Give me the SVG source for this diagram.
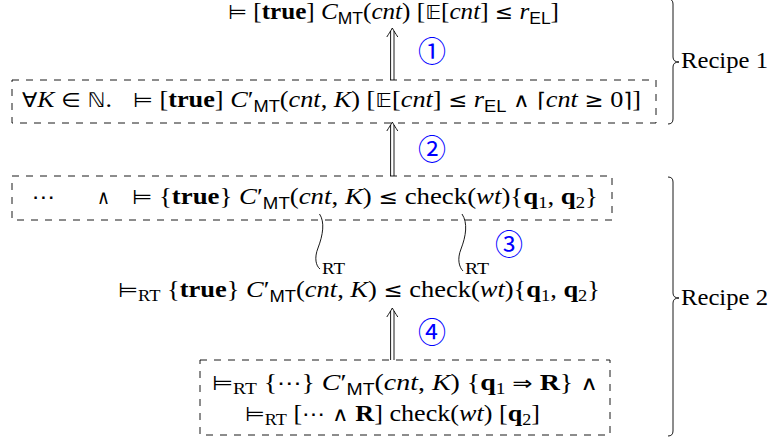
<svg xmlns="http://www.w3.org/2000/svg" width="774" height="440" viewBox="0 0 774 440">
<style>
.t { font-family: "Liberation Serif", "DejaVu Serif", serif; font-size: 23px; fill: #000; }
.i { font-style: italic; }
.b { font-weight: bold; }
.s { font-family: "DejaVu Sans", sans-serif; font-size: 20px; }
.sf { font-family: "Liberation Sans", sans-serif; font-size: 16px; }
.sub { font-size: 16px; }
.num { font-family: "Noto Sans CJK JP", "DejaVu Sans", sans-serif; font-size: 28px; fill: #0000ff; }
.box { fill: none; stroke: #000; stroke-width: 0.9; stroke-dasharray: 7 7; }
.ln { fill: none; stroke: #000; stroke-width: 0.9; }
</style>
<rect width="774" height="440" fill="#fff"/>

<g id="goal">
<text class="t" x="228" y="19" textLength="331" lengthAdjust="spacingAndGlyphs"><tspan class="s">⊨</tspan> [<tspan class="b">true</tspan>] <tspan class="i">C</tspan><tspan class="sf" dy="5">MT</tspan><tspan dy="-5">(</tspan><tspan class="i">cnt</tspan>) [<tspan class="s">𝔼</tspan>[<tspan class="i">cnt</tspan>] <tspan class="s">≤</tspan> <tspan class="i">r</tspan><tspan class="sf" dy="5">EL</tspan><tspan dy="-5">]</tspan></text>
</g>

<g id="box1">
<rect class="box" x="12" y="80" width="644" height="43"/>
<text class="t" x="22" y="107" textLength="90" lengthAdjust="spacingAndGlyphs"><tspan class="s">∀</tspan><tspan class="i">K</tspan> <tspan class="s">∈ ℕ</tspan>.</text>
<text class="t" x="133" y="107" textLength="508" lengthAdjust="spacingAndGlyphs"><tspan class="s">⊨</tspan> [<tspan class="b">true</tspan>] <tspan class="i">C</tspan>′<tspan class="sf" dy="5">MT</tspan><tspan dy="-5">(</tspan><tspan class="i">cnt</tspan>, <tspan class="i">K</tspan>) [<tspan class="s">𝔼</tspan>[<tspan class="i">cnt</tspan>] <tspan class="s">≤</tspan> <tspan class="i">r</tspan><tspan class="sf" dy="5">EL</tspan><tspan dy="-5"> </tspan><tspan class="s">∧ ⌈</tspan><tspan class="i">cnt</tspan> <tspan class="s">≥</tspan> 0<tspan class="s">⌉</tspan>]</text>
</g>

<g id="box2">
<rect class="box" x="12" y="176" width="600" height="44"/>
<text class="t" x="32" y="204" textLength="23" lengthAdjust="spacingAndGlyphs"><tspan class="s">⋯</tspan></text>
<text class="t" x="97" y="204" textLength="13" lengthAdjust="spacingAndGlyphs"><tspan class="s">∧</tspan></text>
<text class="t" x="132" y="204" textLength="466" lengthAdjust="spacingAndGlyphs"><tspan class="s">⊨</tspan> {<tspan class="b">true</tspan>} <tspan class="i">C</tspan>′<tspan class="sf" dy="5">MT</tspan><tspan dy="-5">(</tspan><tspan class="i">cnt</tspan>, <tspan class="i">K</tspan>) <tspan class="s">≤</tspan> check(<tspan class="i">wt</tspan>){<tspan class="b">q</tspan><tspan class="sub" dy="4">1</tspan><tspan dy="-4">, </tspan><tspan class="b">q</tspan><tspan class="sub" dy="4">2</tspan><tspan dy="-4">}</tspan></text>
</g>

<g id="rt-judgement">
<text class="t" x="118" y="297" textLength="482" lengthAdjust="spacingAndGlyphs"><tspan class="s">⊨</tspan><tspan class="sub" dy="4">RT</tspan><tspan dy="-4"> {</tspan><tspan class="b">true</tspan>} <tspan class="i">C</tspan>′<tspan class="sf" dy="5">MT</tspan><tspan dy="-5">(</tspan><tspan class="i">cnt</tspan>, <tspan class="i">K</tspan>) <tspan class="s">≤</tspan> check(<tspan class="i">wt</tspan>){<tspan class="b">q</tspan><tspan class="sub" dy="4">1</tspan><tspan dy="-4">, </tspan><tspan class="b">q</tspan><tspan class="sub" dy="4">2</tspan><tspan dy="-4">}</tspan></text>
</g>

<g id="box3">
<rect class="box" x="200" y="360" width="410" height="75"/>
<text class="t" x="212" y="390" textLength="386" lengthAdjust="spacingAndGlyphs"><tspan class="s">⊨</tspan><tspan class="sub" dy="4">RT</tspan><tspan dy="-4"> {</tspan><tspan class="s">⋯</tspan>} <tspan class="i">C</tspan>′<tspan class="sf" dy="5">MT</tspan><tspan dy="-5">(</tspan><tspan class="i">cnt</tspan>, <tspan class="i">K</tspan>) {<tspan class="b">q</tspan><tspan class="sub" dy="4">1</tspan><tspan dy="-4"> </tspan><tspan class="s">⇒</tspan> <tspan class="b">R</tspan>} <tspan class="s">∧</tspan></text>
<text class="t" x="245" y="421" textLength="295" lengthAdjust="spacingAndGlyphs"><tspan class="s">⊨</tspan><tspan class="sub" dy="4">RT</tspan><tspan dy="-4"> [</tspan><tspan class="s">⋯ ∧</tspan> <tspan class="b">R</tspan>] check(<tspan class="i">wt</tspan>) [<tspan class="b">q</tspan><tspan class="sub" dy="4">2</tspan><tspan dy="-4">]</tspan></text>
</g>

<g id="recipe1">
<path class="ln" d="M 668,-1 Q 673,-1 673,4 L 673,57 Q 673,62 679,62 Q 673,62 673,67 L 673,119 Q 673,124 668,124"/>
<text class="t" x="681" y="68" textLength="87" lengthAdjust="spacingAndGlyphs">Recipe 1</text>
</g>
<g id="recipe2">
<path class="ln" d="M 668,177 Q 673,177 673,182 L 673,293 Q 673,298 679,298 Q 673,298 673,303 L 673,431 Q 673,436 668,436"/>
<text class="t" x="681" y="305" textLength="87" lengthAdjust="spacingAndGlyphs">Recipe 2</text>
</g>

<g id="connectors">
<g id="arrow1">
<line class="ln" x1="390.6" y1="31" x2="390.6" y2="80"/>
<line class="ln" x1="394" y1="31" x2="394" y2="80"/>
<path class="ln" d="M 386.8,37 C 389,33.5 391,30.5 392.3,28 C 393.6,30.5 395.6,33.5 397.8,37"/>
<text class="num" x="432" y="62" text-anchor="middle">①</text>
</g>
<g id="arrow2">
<line class="ln" x1="390.6" y1="125" x2="390.6" y2="176"/>
<line class="ln" x1="394" y1="125" x2="394" y2="176"/>
<path class="ln" d="M 386.8,131 C 389,127.5 391,124.5 392.3,122 C 393.6,124.5 395.6,127.5 397.8,131"/>
<text class="num" x="432" y="160" text-anchor="middle">②</text>
</g>
<g id="rt1">
<path class="ln" d="M 319.5,214 C 325,222 323,235 318,248 C 314,258 316,266 320,269"/>
<text class="t sub" x="322" y="274" textLength="23" lengthAdjust="spacingAndGlyphs">RT</text>
</g>
<g id="rt2">
<path class="ln" d="M 462,214 C 468,223 466,236 461,249 C 457,259 459,267 463,271"/>
<text class="t sub" x="465" y="274" textLength="24" lengthAdjust="spacingAndGlyphs">RT</text>
<text class="num" x="509" y="255" text-anchor="middle">③</text>
</g>
<g id="arrow4">
<line class="ln" x1="390.6" y1="311" x2="390.6" y2="360"/>
<line class="ln" x1="394" y1="311" x2="394" y2="360"/>
<path class="ln" d="M 386.8,317 C 389,313.5 391,310.5 392.3,308 C 393.6,310.5 395.6,313.5 397.8,317"/>
<text class="num" x="432" y="343" text-anchor="middle">④</text>
</g>
</g>
</svg>
